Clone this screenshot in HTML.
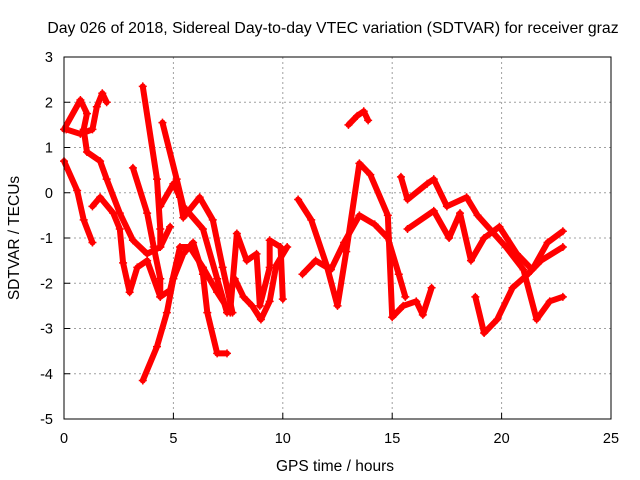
<!DOCTYPE html>
<html><head><meta charset="utf-8"><style>
body{margin:0;background:#fff}
svg{display:block;font-family:"Liberation Sans",sans-serif}
</style></head><body>
<svg id="chart" width="640" height="480" xmlns="http://www.w3.org/2000/svg">
<text x="333" y="33" font-size="15.8" text-anchor="middle">Day 026 of 2018, Sidereal Day-to-day VTEC variation (SDTVAR) for receiver graz</text>
<text x="335" y="471" font-size="15.5" text-anchor="middle">GPS time / hours</text>
<text transform="translate(19,238) rotate(-90)" font-size="15.5" text-anchor="middle">SDTVAR / TECUs</text>
<g id="grid"></g>
<g id="marks"></g>
<rect x="64" y="57" width="547" height="362" fill="none" stroke="#000" stroke-width="1"/>
<g id="ticks"></g>
</svg>
<script>
const xTicks=[0,5,10,15,20,25];
const yTicks=[3,2,1,0,-1,-2,-3,-4,-5];
const tracks=[
[[0,1.4],[0.75,2.05],[1.05,1.75],[0.9,1.4],[1.05,0.9],[1.65,0.7],[1.95,0.3],[2.55,-0.45],[3.15,-1.05],[3.8,-1.35],[4.4,-1.2],[4.85,-0.75]],
[[0.1,1.4],[0.75,1.3],[1.3,1.4],[1.5,1.9],[1.75,2.2],[1.95,2.0]],
[[0,0.7],[0.6,0.05],[0.9,-0.6],[1.3,-1.1]],
[[1.3,-0.3],[1.65,-0.1],[2.25,-0.45],[2.55,-0.8],[2.7,-1.55],[3.0,-2.2],[3.35,-1.65],[3.8,-1.5],[4.4,-2.3],[4.85,-2.15],[5.3,-1.2],[5.75,-1.2],[6.35,-1.65],[7.0,-2.2],[7.6,-2.65]],
[[3.6,2.35],[4.25,0.3],[4.4,-0.8],[4.4,-1.2]],
[[4.5,1.55],[5.15,0.3],[5.45,-0.3],[6.35,-0.8],[7.0,-1.9],[7.45,-2.65]],
[[3.15,0.55],[3.8,-0.45],[4.1,-1.2],[4.4,-1.9],[4.4,-2.3]],
[[3.6,-4.15],[4.25,-3.4],[4.7,-2.65],[5.0,-1.9],[5.45,-1.35],[5.9,-1.1],[6.35,-1.8],[6.55,-2.65],[7.0,-3.55],[7.45,-3.55]],
[[4.4,-0.3],[5.0,0.2],[5.3,-0.1],[5.45,-0.55],[6.2,-0.1],[6.8,-0.6],[7.25,-1.65],[7.7,-2.65]],
[[7.6,-2.6],[7.9,-0.9],[8.35,-1.5],[8.8,-1.35],[8.95,-2.5],[9.4,-1.65],[9.4,-1.05],[9.9,-1.2],[10.0,-2.35]],
[[7.8,-1.9],[8.2,-2.3],[8.6,-2.5],[9.0,-2.8],[9.4,-2.4],[9.7,-1.6],[10.2,-1.2]],
[[10.7,-0.15],[11.3,-0.6],[12.0,-1.6],[12.5,-2.5],[12.9,-1.3],[13.5,0.65],[14.0,0.4],[14.8,-0.5],[15.0,-2.75],[15.5,-2.5],[16.1,-2.4],[16.4,-2.7],[16.8,-2.1]],
[[10.9,-1.8],[11.5,-1.5],[12.2,-1.7],[12.8,-1.1],[13.5,-0.5],[14.2,-0.7],[14.8,-1.0],[15.3,-1.8],[15.6,-2.3]],
[[13.0,1.5],[13.4,1.7],[13.7,1.8],[13.9,1.6]],
[[15.4,0.35],[15.7,-0.15],[16.6,0.2],[16.9,0.3],[17.5,-0.3],[18.4,-0.1],[18.9,-0.5],[20.2,-1.2],[21.0,-1.7],[21.6,-2.8],[22.2,-2.4],[22.8,-2.3]],
[[15.7,-0.8],[16.9,-0.4],[17.6,-1.0],[18.1,-0.45],[18.6,-1.5],[19.2,-1.0],[19.9,-0.75],[20.7,-1.35],[21.4,-1.7],[22.1,-1.1],[22.8,-0.85]],
[[18.8,-2.3],[19.2,-3.1],[19.8,-2.8],[20.5,-2.1],[21.2,-1.8],[21.8,-1.5],[22.8,-1.2]]
];
const X=h=>64+h*547/25, Y=v=>57+(3-v)*362/8;
const NS='http://www.w3.org/2000/svg';
const grid=document.getElementById('grid'),ticks=document.getElementById('ticks'),marks=document.getElementById('marks');
function mk(tag,attrs,parent){const e=document.createElementNS(NS,tag);for(const k in attrs)e.setAttribute(k,attrs[k]);parent.appendChild(e);return e;}
xTicks.forEach(t=>{
  const g=mk('line',{x1:X(t),x2:X(t),y1:57,y2:419,stroke:'#a0a0a0','stroke-dasharray':'2,3'},grid);
  
  
  const tk=mk('line',{x1:X(t),x2:X(t),y1:419,y2:413,stroke:'#000'},ticks);
  
  
  const l=mk('text',{x:X(t),y:443,'font-size':14.5,'text-anchor':'middle'},ticks);
  l.textContent=t;
  
  
});
yTicks.forEach(t=>{
  const g=mk('line',{x1:64,x2:611,y1:Y(t),y2:Y(t),stroke:'#a0a0a0','stroke-dasharray':'2,3'},grid);
  
  
  const tk=mk('line',{x1:64,x2:70,y1:Y(t),y2:Y(t),stroke:'#000'},ticks);
  
  
  const l=mk('text',{x:53,y:Y(t)+5,'font-size':14.5,'text-anchor':'end'},ticks);
  l.textContent=t;
  
  
});
tracks.forEach(tr=>{
  const pl=mk('polyline',{points:tr.map(p=>X(p[0])+','+Y(p[1])).join(' '),fill:'none',stroke:'#ff0000','stroke-width':6,'stroke-linejoin':'round','stroke-linecap':'round'},marks);
  
  
  tr.forEach(p=>{
    const m=mk('path',{d:`M${X(p[0])-4},${Y(p[1])}h8M${X(p[0])},${Y(p[1])-4}v8`,stroke:'#ff0000','stroke-width':1.5},marks);
    
    
  });
});
</script>
</body></html>
